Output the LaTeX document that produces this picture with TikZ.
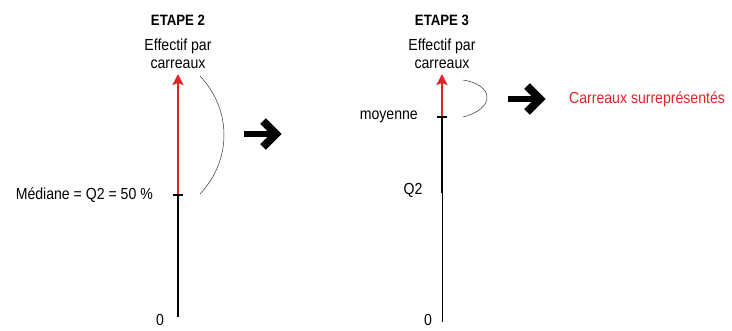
\documentclass[tikz,border=0pt]{standalone}
\usepackage{fontspec}
\setmainfont{Liberation Sans}[FakeStretch=0.88]
\usetikzlibrary{arrows.meta}
\definecolor{rouge}{RGB}{226,35,40}
\tikzset{every picture/.style={x=1pt, y=1pt},
	axe/.style={line width=2.2pt},
	fin/.style={line width=0.8pt},
	graduation/.style={line width=1.4pt},
	accolade/.style={line width=0.5pt, black!80},
	tige/.style={line width=6pt},
	pointe/.style={line width=8pt, miter limit=10},
	titre/.style={font=\bfseries\fontsize{15}{17}\selectfont},
	texte/.style={font=\fontsize{16}{18}\selectfont, align=center, inner sep=0pt}}

\begin{document}
\begin{tikzpicture}
	\useasboundingbox (0,0) rectangle (732,330);
	% etape 2
	\node[titre] (t2) at (178,310) {ETAPE 2};
	\node[texte] (e2) at (178,276) {Effectif par\\carreaux};
	\coordinate (o2) at (178,13);
	\coordinate (m2) at (178,135);
	\coordinate (h2) at (178,256);
	\draw[axe] (o2) -- (m2);
	\draw[axe, rouge, -{Stealth[length=11pt, width=11pt, inset=2pt]}] (m2) -- (h2);
	\draw[graduation] ([xshift=-5pt]m2) -- ([xshift=5pt]m2);
	\node[texte, anchor=east] (med) at (153,135) {Médiane = Q2 = 50 \%};
	\node[texte] (z2) at (160,10) {0};
	\coordinate (a2) at (200,254);
	\coordinate (b2) at (200,136);
	\draw[accolade] (a2) .. controls (232,220) and (232,170) .. (b2);
	\coordinate (f2a) at (244,196);
	\coordinate (f2b) at (276,196);
	\draw[tige] (f2a) -- (f2b);
	\draw[pointe] ([shift={(-13,13)}]f2b) -- ++(13,-13) -- ++(-13,-13);
	% etape 3
	\node[titre] (t3) at (442,310) {ETAPE 3};
	\node[texte] (e3) at (442,276) {Effectif par\\carreaux};
	\coordinate (o3) at (442,8);
	\coordinate (q3) at (442,137);
	\coordinate (m3) at (442,213);
	\coordinate (h3) at (442,256);
	\draw[fin] (o3) -- (q3);
	\draw[axe] (q3) -- (m3);
	\draw[axe, rouge, -{Stealth[length=11pt, width=11pt, inset=2pt]}] (m3) -- (h3);
	\draw[graduation] ([xshift=-5pt]m3) -- ([xshift=5pt]m3);
	\node[texte, anchor=east] (moy) at (418,213) {moyenne};
	\node[texte] (q2) at (413,140) {Q2};
	\node[texte] (z3) at (428,10) {0};
	\coordinate (a3) at (463,250);
	\coordinate (b3) at (463,213);
	\draw[accolade] (a3) .. controls (495,245) and (495,221) .. (b3);
	\coordinate (f3a) at (508,231);
	\coordinate (f3b) at (540,231);
	\draw[tige] (f3a) -- (f3b);
	\draw[pointe] ([shift={(-13,13)}]f3b) -- ++(13,-13) -- ++(-13,-13);
	\node[texte, anchor=west, text=rouge] (sur) at (569,231) {Carreaux surreprésentés};
\end{tikzpicture}
\end{document}
